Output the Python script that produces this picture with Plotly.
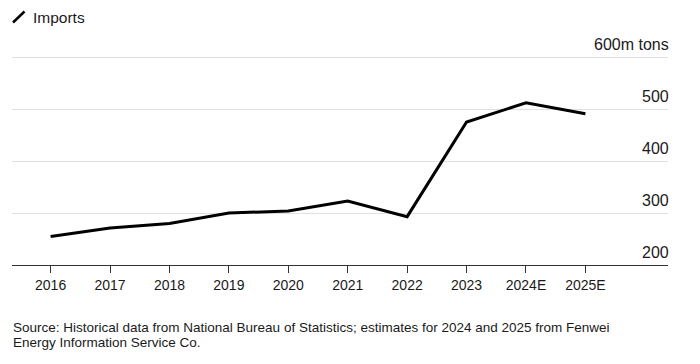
import plotly.graph_objects as go

years = ["2016", "2017", "2018", "2019", "2020", "2021", "2022", "2023", "2024E", "2025E"]
imports = [255, 271, 280, 300, 304, 323, 293, 475, 512, 491]

ytick_vals = [200, 300, 400, 500, 600]
ytick_text = ["200", "300", "400", "500", "600m tons"]

source_lines = [
    "Source: Historical data from National Bureau of Statistics; estimates for 2024 and 2025 from Fenwei",
    "Energy Information Service Co.",
]

W, H = 700, 364
ML, MR, MT, MB = 12, 32, 56, 99
PW, PH = W - ML - MR, H - MT - MB

def px_x(x):
    return (x - ML) / PW

def px_y(y):
    return (H - MB - y) / PH

FONT = "Liberation Sans, Arial, Helvetica, sans-serif"

fig = go.Figure()
fig.add_trace(go.Scatter(
    x=years, y=imports, mode="lines",
    line=dict(color="#000000", width=3),
    showlegend=False, hoverinfo="skip",
    cliponaxis=False,
))

annotations = [
    dict(text=t, xref="paper", yref="y", x=1, y=v,
         xanchor="right", yanchor="middle", yshift=13, xshift=3,
         showarrow=False, font=dict(size=16, color="#1a1a1a"))
    for v, t in zip(ytick_vals, ytick_text)
]
annotations.append(
    dict(text="Imports", xref="paper", yref="paper",
         x=px_x(31), y=px_y(17), xanchor="left", yanchor="middle",
         showarrow=False, font=dict(size=15.5, color="#1a1a1a"))
)
for i, line in enumerate(source_lines):
    annotations.append(
        dict(text=line, xref="paper", yref="paper",
             x=px_x(11), y=px_y(327.5 + 14.5 * i), xanchor="left", yanchor="middle",
             align="left", showarrow=False,
             font=dict(size=13.5, color="#1a1a1a"))
    )

fig.update_layout(
    width=W, height=H,
    margin=dict(l=ML, r=MR, t=MT, b=MB, autoexpand=False),
    paper_bgcolor="white", plot_bgcolor="white",
    font=dict(family=FONT, size=14, color="#1a1a1a"),
    xaxis=dict(
        type="category",
        range=[-0.65, 10.39],
        showgrid=False, zeroline=False,
        showline=True, linecolor="#333333", linewidth=1,
        ticks="outside", ticklen=7, tickcolor="#333333", tickwidth=1,
        tickfont=dict(size=14, color="#1a1a1a"),
        automargin=False,
        fixedrange=True,
    ),
    yaxis=dict(
        side="right",
        range=[200, 602],
        tickvals=ytick_vals,
        showticklabels=False,
        showgrid=True, gridcolor="#e0e0e0", gridwidth=1,
        zeroline=False, showline=False, ticks="",
        automargin=False,
        fixedrange=True,
    ),
    shapes=[
        dict(type="line", xref="paper", yref="paper",
             x0=px_x(13), y0=px_y(22.5), x1=px_x(24.5), y1=px_y(11.5),
             line=dict(color="#000000", width=2.5)),
    ],
    annotations=annotations,
)

fig.write_html("out.html", config={"displayModeBar": False},
               post_script="document.body.style.margin='0';document.body.style.padding='0';")
